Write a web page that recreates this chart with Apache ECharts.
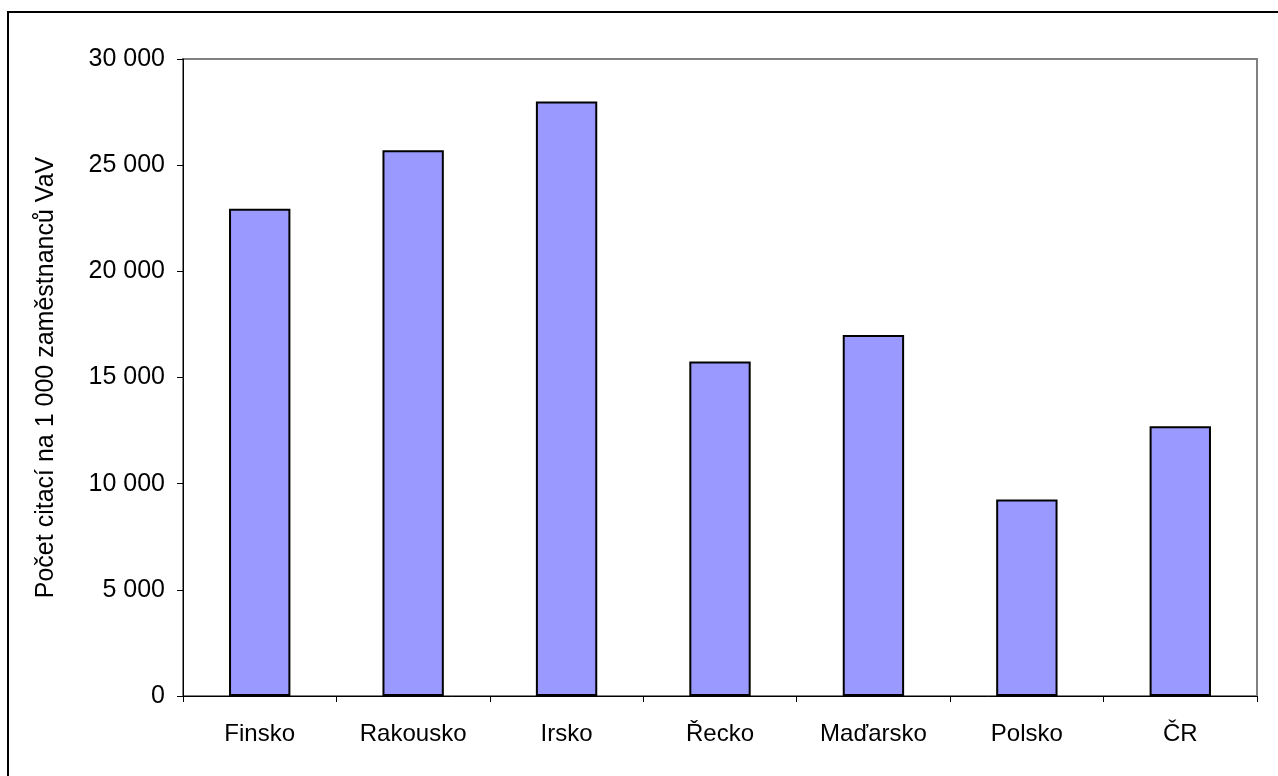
<!DOCTYPE html>
<html>
<head>
<meta charset="utf-8">
<script src="https://cdn.jsdelivr.net/npm/echarts@6/dist/echarts.min.js"></script>
<style>
    html, body { margin: 0; padding: 0; background: #fff; }
    #chart { width: 1278px; height: 776px; }
</style>
</head>
<body>
<div id="chart"></div>
<script>
const countries = ['Finsko', 'Rakousko', 'Irsko', 'Řecko', 'Maďarsko', 'Polsko', 'ČR'];
const citations = [22950, 25700, 28000, 15750, 17000, 9250, 12700];
const yTitle = 'Počet citací na 1 000 zaměstnanců VaV';

const fmtThousands = (v) => String(v).replace(/\B(?=(\d{3})+(?!\d))/g, ' ');

const chart = echarts.init(document.getElementById('chart'));
chart.setOption({
    animation: false,
    textStyle: {fontFamily: 'Liberation Sans, Arial, sans-serif'},
    graphic: [
        {
            type: 'rect',
            shape: {x: 8, y: 12, width: 1320, height: 820},
            style: {fill: 'none', stroke: '#000', lineWidth: 2},
            silent: true,
        },
    ],
    grid: {
        left: 183, top: 59, width: 1074, height: 637,
        show: true, borderColor: '#808080', borderWidth: 2,
    },
    xAxis: {
        type: 'category',
        data: countries,
        axisLine: {lineStyle: {color: '#000', width: 1}},
        axisTick: {show: true, length: 6, lineStyle: {color: '#000'}},
        axisLabel: {color: '#000', fontSize: 24, margin: 26},
    },
    yAxis: {
        type: 'value',
        min: 0, max: 30000, interval: 5000,
        name: yTitle,
        nameLocation: 'middle',
        nameGap: 124,
        nameTextStyle: {color: '#000', fontSize: 25},
        splitLine: {show: false},
        axisLine: {show: true, lineStyle: {color: '#000', width: 1}},
        axisTick: {show: true, length: 6, lineStyle: {color: '#000'}},
        axisLabel: {color: '#000', fontSize: 25, margin: 18, formatter: fmtThousands},
    },
    series: [
        {
            type: 'bar',
            data: citations,
            barWidth: '40%',
            itemStyle: {color: '#9999FF', borderColor: '#000', borderWidth: 2},
        },
    ],
});
</script>
</body>
</html>
